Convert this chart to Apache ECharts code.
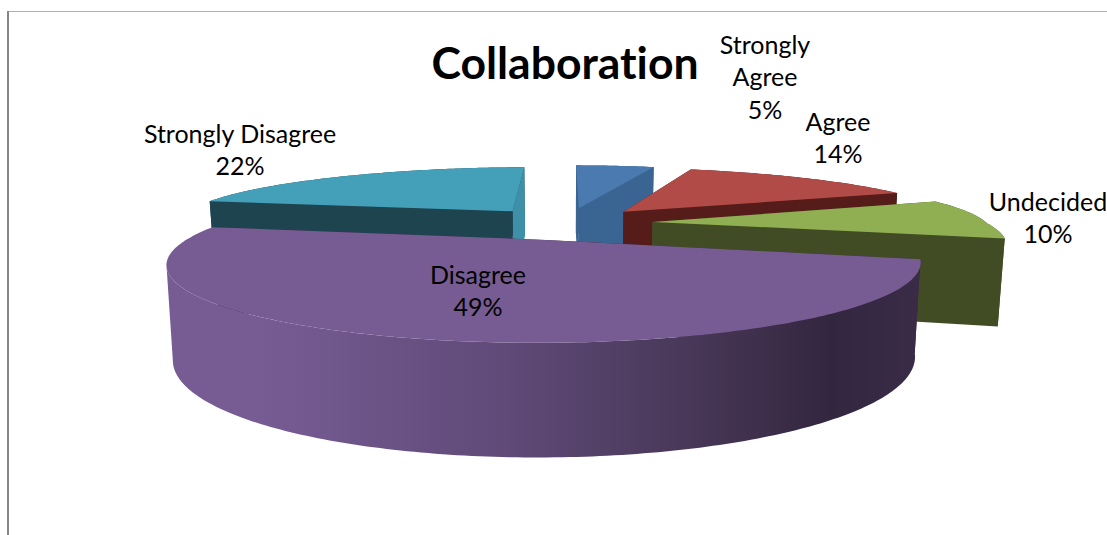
<!DOCTYPE html>
<html>
<head>
<meta charset="utf-8">
<style>html,body{margin:0;padding:0;background:#fff}#c{width:1107px;height:535px}svg text{font-variant-ligatures:none}</style>
<script src="https://cdn.jsdelivr.net/npm/echarts@6/dist/echarts.min.js"></script>
</head>
<body>
<div id="c"></div>
<script>
var titleText = 'Collaboration';
var categories = ['Strongly\nAgree', 'Agree', 'Undecided', 'Disagree', 'Strongly Disagree'];
var values = [5, 14, 10, 49, 22];

var topColors = ['#4a7ab0', '#b04b47', '#90ae52', '#775c94', '#449fb8'];
var wallColors = ['#3a6491', '#551c1a', '#414c24', null, '#1e4450'];
var backFaceColors = ['#3a6491', '#551c1a', '#414c24', '#352740', '#3d90a8'];
var paintOrder = [1, 2, 3, 5, 0];
var labelPlaces = [[765, 76], [838, 137], [1048, 217], [478, 290], [240, 149]];

var FONT = 'Lato, Carlito, "Open Sans", sans-serif';
var CX = 566, CY = 223, RX = 334, RY = 62, PERSP = 0.28, FAR_WIDEN = 0.09, EXPLODE = 0.26;
var DEPTH = 84, DEPTH_POW = 0.72, TAPER = 0.016;

function project(X, Y, Z) {
  var s = 1 / (1 - PERSP * Y);
  var far = Y < 0 ? Math.max(0, -Y * (1.25 + Y)) : 0;
  var x = CX + RX * X * s * (1 + FAR_WIDEN * far), y = CY + RY * Y * s;
  if (Z) { y += DEPTH * Math.pow(s, DEPTH_POW); x = CX + (x - CX) * (1 - TAPER); }
  return [x, y];
}

var total = values.reduce(function (a, b) { return a + b; }, 0);
var starts = [];
values.reduce(function (acc, v, i) { starts[i] = acc; return acc + v; }, 0);

function renderSlice(params, api) {
  var i = params.dataIndex;
  var a0 = api.value(1) / total * 2 * Math.PI;
  var a1 = a0 + api.value(0) / total * 2 * Math.PI;
  var mid = (a0 + a1) / 2;
  var ox = EXPLODE * Math.sin(mid), oy = -EXPLODE * Math.cos(mid);
  var z2 = paintOrder[i];
  var top = [], bottom = [];
  var n = Math.max(4, Math.ceil((a1 - a0) / 0.015));
  for (var k = 0; k <= n; k++) {
    var t = a0 + (a1 - a0) * k / n;
    var X = ox + Math.sin(t), Y = oy - Math.cos(t);
    top.push(project(X, Y, 0));
    bottom.push(project(X, Y, 1));
  }
  var apexT = project(ox, oy, 0), apexB = project(ox, oy, 1);
  var first = [apexT, top[0], bottom[0], apexB];
  var last = [apexT, top[n], bottom[n], apexB];
  var frontRim = a0 < Math.PI && a1 > Math.PI;
  var rimEnd = n;
  if (frontRim) {
    for (var m = 0; m <= n; m++) { if (top[m][0] < top[rimEnd][0]) rimEnd = m; }
  }
  var rimFill = wallColors[i] || new echarts.graphic.LinearGradient(0, 0, 1, 0, [
    { offset: 0, color: '#775c94' },
    { offset: 0.12, color: '#775c94' },
    { offset: 0.45, color: '#5f4a78' },
    { offset: 0.7, color: '#483757' },
    { offset: 0.88, color: '#33263f' },
    { offset: 1, color: '#3a2c47' }
  ]);
  var rim = {
    type: 'polygon',
    shape: { points: top.slice(0, rimEnd + 1).concat(bottom.slice(0, rimEnd + 1).reverse()) },
    style: { fill: rimFill }, z2: z2
  };
  var firstNear = top[0][1] > top[n][1];
  var faceFar = { type: 'polygon', shape: { points: firstNear ? last : first }, style: { fill: backFaceColors[i] }, z2: z2 };
  var faceNear = { type: 'polygon', shape: { points: firstNear ? first : last }, style: { fill: wallColors[i] || backFaceColors[i] }, z2: z2 };
  var children = frontRim ? [faceFar, faceNear, rim] : [rim, faceFar, faceNear];
  children.push({ type: 'polygon', shape: { points: [apexT].concat(top) }, style: { fill: topColors[i] }, z2: z2 });
  children.push({
    type: 'text', x: labelPlaces[i][0], y: labelPlaces[i][1], z2: 20,
    style: {
      text: categories[i] + '\n' + api.value(0) + '%',
      fill: '#000', font: '25px ' + FONT, lineHeight: 32.5,
      align: 'center', verticalAlign: 'middle'
    }
  });
  return { type: 'group', children: children };
}

var chart = echarts.init(document.getElementById('c'), null, { renderer: 'svg' });
chart.setOption({
  animation: false,
  backgroundColor: '#fff',
  title: {
    text: titleText, left: 560, top: 34, textAlign: 'center',
    textStyle: { fontFamily: FONT, fontSize: 44.5, fontWeight: 'bold', color: '#000' }
  },
  graphic: [
    { type: 'rect', shape: { x: 8, y: 11, width: 1099, height: 1 }, style: { fill: '#b0b0b0' }, silent: true },
    { type: 'rect', shape: { x: 7, y: 11, width: 2, height: 524 }, style: { fill: '#868686' }, silent: true }
  ],
  series: [{
    type: 'custom',
    coordinateSystem: 'none',
    silent: true,
    renderItem: renderSlice,
    encode: { value: 0 },
    data: values.map(function (v, i) { return [v, starts[i]]; })
  }]
});
</script>
</body>
</html>
